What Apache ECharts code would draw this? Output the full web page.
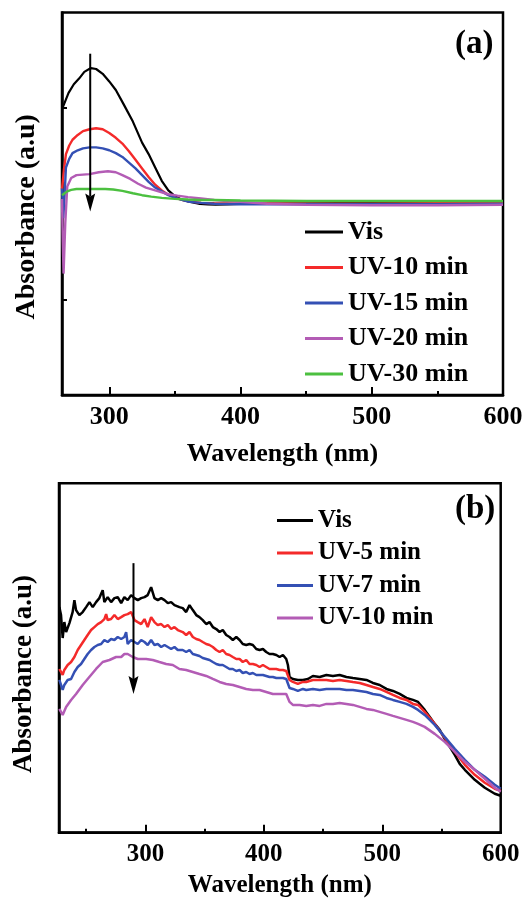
<!DOCTYPE html>
<html>
<head>
<meta charset="utf-8">
<script src="https://cdn.jsdelivr.net/npm/echarts@6/dist/echarts.min.js"></script>
<style>
  html, body { margin: 0; padding: 0; background: #fff; width: 523px; height: 899px; overflow: hidden; }
  #panelA { position: absolute; left: 0; top: 0; width: 523px; height: 480px; }
  #panelB { position: absolute; left: 0; top: 460px; width: 523px; height: 439px; }
</style>
</head>
<body>
<div id="panelA"></div>
<div id="panelB"></div>
<script>
// ---------- Panel (a): spectra [wavelength nm, absorbance a.u.] ----------
const aNames = ['Vis', 'UV-10 min', 'UV-15 min', 'UV-20 min', 'UV-30 min'];
const aVis = [[264,2.99],[265.5,3.04],[269,3.16],[273,3.25],[277,3.31],[281,3.38],[286,3.42],[290,3.41],[295,3.36],[300,3.28],[305,3.19],[311,3.04],[318,2.86],[325,2.64],[330,2.52],[335,2.38],[340,2.24],[345,2.14],[350,2.08],[355,2.045],[360,2.025],[369,2.0],[375,1.995],[381,1.99],[390,1.995],[400,2.0],[450,2.005],[500,2.01],[550,2.01],[600,2.02]];
const aUV10 = [[264,2.15],[265.5,2.36],[267,2.52],[269.5,2.61],[272,2.67],[276,2.72],[280,2.76],[285,2.78],[290,2.79],[295,2.78],[300,2.74],[305,2.69],[310,2.63],[315,2.55],[320,2.46],[325,2.37],[330,2.28],[335,2.2],[340,2.14],[345,2.095],[351,2.06],[356,2.04],[361,2.025],[370,2.01],[380,2.005],[400,2.0],[450,2.0],[500,2.0],[550,2.005],[600,2.01]];
const aUV15 = [[264,2.16],[265,1.85],[266,2.1],[267,2.38],[269.5,2.47],[272,2.53],[276,2.56],[280,2.58],[285,2.59],[290,2.59],[295,2.58],[300,2.56],[305,2.53],[310,2.49],[315,2.43],[320,2.37],[325,2.3],[330,2.23],[335,2.17],[340,2.13],[345,2.09],[351,2.06],[356,2.04],[361,2.02],[370,2.01],[380,2.0],[400,1.995],[450,1.995],[500,1.995],[550,1.995],[600,2.0]];
const aUV20 = [[264,2.05],[264.6,1.6],[265.2,1.27],[266.5,1.8],[268,2.18],[271,2.27],[275,2.3],[280,2.305],[285,2.31],[292,2.33],[299,2.34],[305,2.33],[310,2.3],[316,2.26],[322,2.21],[328,2.17],[335,2.14],[345,2.1],[352,2.085],[360,2.07],[370,2.055],[380,2.04],[390,2.03],[400,2.02],[420,2.0],[450,1.99],[500,1.985],[550,1.985],[600,1.99]];
const aUV30 = [[264,2.09],[266,2.11],[268,2.13],[271,2.145],[275,2.155],[282,2.155],[290,2.155],[297,2.155],[303,2.15],[310,2.135],[318,2.11],[325,2.09],[332,2.075],[340,2.062],[350,2.052],[360,2.045],[370,2.04],[380,2.04],[400,2.035],[450,2.03],[500,2.03],[550,2.03],[600,2.03]];
const aArrow = [[285.5, 3.57], [285.5, 1.92]];

// ---------- Panel (b) ----------
const bNames = ['Vis', 'UV-5 min', 'UV-7 min', 'UV-10 min'];
const bVis = [[227.3,2.26],[228.7,2.18],[230.1,1.95],[231.5,2.11],[233.0,2.01],[235.8,2.10],[238.5,2.21],[240.0,2.33],[241.4,2.23],[244.2,2.18],[247.0,2.21],[249.9,2.26],[252.7,2.31],[255.5,2.26],[258.3,2.31],[261.1,2.35],[263.9,2.43],[265.3,2.31],[268.1,2.36],[271.0,2.31],[273.8,2.35],[276.6,2.36],[279.5,2.30],[282.2,2.36],[285.0,2.33],[287.9,2.38],[290.7,2.35],[293.5,2.33],[296.4,2.35],[299.2,2.36],[301.9,2.38],[304.8,2.46],[307.6,2.35],[310.4,2.33],[313.3,2.35],[316.1,2.33],[318.9,2.30],[321.7,2.31],[324.5,2.28],[328.7,2.26],[331.5,2.25],[334.4,2.21],[337.2,2.28],[340.0,2.23],[342.9,2.18],[345.6,2.16],[348.4,2.13],[351.3,2.09],[354.1,2.11],[356.9,2.06],[359.8,2.04],[362.6,2.01],[365.3,2.03],[368.2,1.98],[371.0,1.96],[373.8,1.93],[376.7,1.96],[379.5,1.93],[382.2,1.89],[385.1,1.88],[387.9,1.89],[390.7,1.88],[393.6,1.84],[396.4,1.83],[399.2,1.84],[402.0,1.81],[404.8,1.79],[407.6,1.79],[410.5,1.78],[413.3,1.76],[416.1,1.78],[418.9,1.74],[420.3,1.68],[421.7,1.56],[424.5,1.54],[428.7,1.53],[433.0,1.53],[437.2,1.54],[441.4,1.57],[447.1,1.56],[452.8,1.58],[458.3,1.57],[464.0,1.58],[469.7,1.56],[475.2,1.55],[480.9,1.54],[486.6,1.53],[492.1,1.50],[497.8,1.48],[503.5,1.44],[509.0,1.42],[514.7,1.39],[520.4,1.35],[525.9,1.33],[530.2,1.31],[531.6,1.29],[535.8,1.23],[540.1,1.16],[544.3,1.09],[548.5,1.03],[552.7,0.94],[557.0,0.86],[561.2,0.78],[565.4,0.69],[569.7,0.63],[573.9,0.58],[578.1,0.53],[582.3,0.49],[586.6,0.45],[590.8,0.42],[595.0,0.39],[600,0.37]];
const bUV5 = [[227.3,1.64],[228.7,1.61],[230.1,1.58],[231.5,1.63],[234.3,1.68],[237.2,1.71],[240.0,1.76],[242.8,1.83],[245.6,1.88],[248.4,1.93],[251.2,1.98],[254.1,2.03],[256.9,2.06],[259.7,2.09],[262.6,2.11],[265.3,2.14],[266.8,2.19],[268.1,2.13],[271.0,2.14],[273.8,2.18],[276.6,2.14],[279.5,2.16],[282.2,2.18],[285.0,2.19],[287.9,2.21],[290.7,2.13],[293.5,2.11],[296.4,2.09],[299.2,2.14],[301.9,2.06],[304.8,2.16],[307.6,2.11],[310.4,2.08],[313.3,2.09],[316.1,2.06],[318.9,2.08],[321.7,2.04],[324.5,2.06],[327.3,2.03],[331.5,2.01],[334.4,1.98],[337.2,2.01],[340.0,1.96],[342.9,1.94],[345.6,1.93],[348.4,1.91],[351.3,1.89],[354.1,1.88],[356.9,1.86],[359.8,1.83],[362.6,1.81],[365.3,1.83],[368.2,1.79],[371.0,1.78],[373.8,1.76],[376.7,1.74],[379.5,1.74],[382.2,1.71],[385.1,1.73],[387.9,1.69],[390.7,1.69],[393.6,1.68],[396.4,1.66],[399.2,1.68],[402.0,1.66],[404.8,1.64],[407.6,1.64],[410.5,1.64],[413.3,1.63],[416.1,1.63],[418.9,1.62],[420.3,1.61],[421.7,1.53],[424.5,1.51],[428.7,1.49],[433.0,1.51],[435.8,1.51],[441.4,1.53],[447.1,1.53],[452.8,1.53],[458.3,1.52],[464.0,1.53],[469.7,1.52],[475.2,1.51],[480.9,1.50],[486.6,1.48],[492.1,1.46],[497.8,1.44],[503.5,1.41],[509.0,1.38],[514.7,1.35],[520.4,1.33],[525.9,1.29],[530.2,1.28],[531.6,1.28],[535.8,1.21],[540.1,1.15],[544.3,1.09],[552.7,0.95],[561.2,0.81],[569.7,0.68],[578.1,0.58],[586.6,0.50],[595.0,0.44],[600,0.42]];
const bUV7 = [[227.3,1.53],[228.7,1.48],[230.1,1.43],[231.5,1.48],[234.3,1.53],[237.2,1.54],[240.0,1.61],[242.8,1.66],[245.6,1.69],[248.4,1.74],[251.2,1.79],[254.1,1.83],[256.9,1.86],[259.7,1.88],[262.6,1.89],[265.3,1.93],[268.1,1.91],[271.0,1.94],[273.8,1.93],[276.6,1.96],[279.5,1.94],[282.2,1.96],[283.7,2.01],[285.0,1.89],[287.9,1.93],[290.7,1.91],[293.5,1.89],[296.4,1.93],[299.2,1.91],[301.9,1.88],[304.8,1.93],[307.6,1.88],[310.4,1.89],[313.3,1.86],[316.1,1.88],[318.9,1.86],[321.7,1.84],[324.5,1.86],[327.3,1.83],[331.5,1.83],[334.4,1.81],[337.2,1.83],[340.0,1.79],[342.9,1.78],[345.6,1.77],[348.4,1.75],[351.3,1.74],[354.1,1.73],[356.9,1.71],[359.8,1.69],[362.6,1.68],[365.3,1.68],[368.2,1.66],[371.0,1.64],[373.8,1.64],[376.7,1.62],[379.5,1.63],[382.2,1.60],[385.1,1.61],[387.9,1.59],[390.7,1.60],[393.6,1.58],[396.4,1.58],[399.2,1.58],[402.0,1.57],[404.8,1.56],[407.6,1.56],[410.5,1.55],[413.3,1.55],[416.1,1.55],[418.9,1.54],[420.3,1.54],[421.7,1.45],[424.5,1.44],[428.7,1.42],[433.0,1.44],[435.8,1.43],[441.4,1.44],[447.1,1.43],[452.8,1.44],[458.3,1.44],[464.0,1.44],[469.7,1.43],[475.2,1.43],[480.9,1.42],[486.6,1.41],[492.1,1.39],[497.8,1.38],[503.5,1.35],[509.0,1.33],[514.7,1.31],[520.4,1.29],[525.9,1.26],[530.2,1.23],[531.6,1.24],[535.8,1.18],[540.1,1.13],[544.3,1.08],[552.7,0.96],[561.2,0.84],[569.7,0.73],[578.1,0.63],[586.6,0.56],[595.0,0.48],[600,0.44]];
const bUV10 = [[227.3,1.24],[230.1,1.18],[233.0,1.26],[237.2,1.33],[241.4,1.39],[247.0,1.48],[251.2,1.54],[252.7,1.56],[258.3,1.64],[263.9,1.71],[265.3,1.71],[269.6,1.73],[275.2,1.76],[279.5,1.76],[282.2,1.79],[285.0,1.79],[289.3,1.76],[293.5,1.74],[300.6,1.74],[306.2,1.73],[311.8,1.71],[317.5,1.69],[323.1,1.68],[328.7,1.64],[334.4,1.63],[340.0,1.61],[345.6,1.59],[351.3,1.57],[356.9,1.54],[362.6,1.51],[368.2,1.49],[373.8,1.48],[379.5,1.46],[385.1,1.44],[390.7,1.43],[396.4,1.43],[402.0,1.41],[407.6,1.39],[413.3,1.39],[418.9,1.39],[420.3,1.41],[421.7,1.31],[424.5,1.28],[430.2,1.28],[435.8,1.27],[441.4,1.28],[447.1,1.27],[452.8,1.29],[458.3,1.29],[464.0,1.30],[469.7,1.29],[475.2,1.28],[480.9,1.26],[486.6,1.24],[492.1,1.23],[497.8,1.21],[503.5,1.19],[509.0,1.17],[514.7,1.15],[520.4,1.13],[525.9,1.11],[530.2,1.09],[535.8,1.06],[544.3,0.99],[552.7,0.91],[561.2,0.81],[569.7,0.71],[578.1,0.63],[586.6,0.54],[595.0,0.45],[600,0.41]];
const bArrow = [[289.9, 2.70], [289.9, 1.39]];

// ---------- Shared styling ----------
const serif = 'Liberation Serif';
const colors = { black: '#000000', red: '#f42a2a', blue: '#3450b4', purple: '#b35cb5', green: '#4cc040' };

function lineSeries(name, data, color, width) {
  return {
    type: 'line', name: name, data: data,
    symbol: 'none', showSymbol: false, smooth: false,
    lineStyle: { color: color, width: width },
    itemStyle: { color: color },
    animation: false, silent: true
  };
}

function buildOption(p) {
  const fontBase = { fontFamily: serif, fontWeight: 'bold', color: '#000' };
  return {
    backgroundColor: 'transparent',
    animation: false,
    grid: Object.assign({ show: true, borderColor: '#000', borderWidth: 2.5, backgroundColor: 'transparent',
      containLabel: false, outerBoundsMode: 'none' }, p.grid),
    legend: {
      orient: 'vertical', left: p.legend.left, top: p.legend.top,
      icon: 'rect', itemWidth: p.legend.itemWidth, itemHeight: 3, itemGap: p.legend.itemGap,
      selectedMode: false, data: p.names,
      textStyle: Object.assign({ fontSize: p.legend.fontSize, lineHeight: p.legend.lineHeight }, fontBase)
    },
    xAxis: [
      {
        type: 'value', min: p.xMin, max: 600, position: 'bottom',
        axisLine: { show: true, onZero: false, lineStyle: { color: '#000', width: 2.5 } },
        axisTick: { show: true, inside: true, length: 8, customValues: [300, 400, 500], lineStyle: { color: '#000', width: 2 } },
        axisLabel: Object.assign({ customValues: [300, 400, 500, 600], fontSize: p.tickFont, margin: p.labelMargin }, fontBase),
        splitLine: { show: false },
        name: 'Wavelength (nm)', nameLocation: 'middle', nameGap: p.xNameGap,
        nameTextStyle: Object.assign({ fontSize: p.xNameFont }, fontBase)
      },
      {
        type: 'value', min: p.xMin, max: 600, position: 'bottom',
        axisLine: { show: false },
        axisTick: { show: true, inside: true, length: 4, customValues: p.minorTicks, lineStyle: { color: '#000', width: 2 } },
        axisLabel: { show: false }, splitLine: { show: false }
      }
    ],
    yAxis: {
      type: 'value', min: 0, max: p.yMax,
      axisLine: { show: true, onZero: false, lineStyle: { color: '#000', width: 2.5 } },
      axisTick: { show: p.yTicks.length > 0, inside: true, length: 5, customValues: p.yTicks, lineStyle: { color: '#000', width: 2 } },
      axisLabel: { show: false }, splitLine: { show: false },
      name: 'Absorbance (a.u)', nameLocation: 'middle', nameGap: p.yNameGap,
      nameTextStyle: Object.assign({ fontSize: p.yNameFont, padding: p.yNamePad }, fontBase)
    },
    graphic: [{
      id: 'tag', type: 'text', left: p.tag.left, top: p.tag.top, silent: true,
      style: { text: p.tag.text, font: 'bold ' + p.tag.size + 'px "' + serif + '"', fill: '#000' }
    }],
    series: p.series
  };
}

// Downward arrow placed through the chart's own coordinate system.
function addArrow(chart, points) {
  const start = chart.convertToPixel({ xAxisIndex: 0, yAxisIndex: 0 }, points[0]);
  const tip = chart.convertToPixel({ xAxisIndex: 0, yAxisIndex: 0 }, points[1]);
  const headLen = 18, headHalf = 5, notch = 3;
  chart.setOption({
    graphic: [
      { id: 'arrowShaft', type: 'line', silent: true, z: 10,
        shape: { x1: start[0], y1: start[1], x2: tip[0], y2: tip[1] - headLen + notch },
        style: { stroke: '#000', lineWidth: 2 } },
      { id: 'arrowHead', type: 'polygon', silent: true, z: 10,
        shape: { points: [[tip[0], tip[1]], [tip[0] - headHalf, tip[1] - headLen], [tip[0], tip[1] - headLen + notch], [tip[0] + headHalf, tip[1] - headLen]] },
        style: { fill: '#000' } }
    ]
  });
}

// ---------- Panel (a) ----------
const chartA = echarts.init(document.getElementById('panelA'), null, { renderer: 'canvas' });
chartA.setOption(buildOption({
  grid: { left: 62, right: 20, top: 12.6, bottom: 85 },
  names: aNames, xMin: 264, yMax: 4, yTicks: [1, 3], minorTicks: [350, 450, 550],
  tickFont: 26, labelMargin: 9, xNameFont: 26, xNameGap: 46,
  yNameFont: 28, yNameGap: 21, yNamePad: [0, 26, 0, 0],
  legend: { left: 300, top: 214, itemWidth: 38, itemGap: 9.5, fontSize: 26, lineHeight: 26 },
  tag: { text: '(a)', left: 455, top: 28, size: 33 },
  series: [
    lineSeries(aNames[0], aVis, colors.black, 2.2),
    lineSeries(aNames[1], aUV10, colors.red, 2.4),
    lineSeries(aNames[2], aUV15, colors.blue, 2.4),
    lineSeries(aNames[3], aUV20, colors.purple, 2.4),
    lineSeries(aNames[4], aUV30, colors.green, 2.4)
  ]
}));
addArrow(chartA, aArrow);

// ---------- Panel (b) ----------
const chartB = echarts.init(document.getElementById('panelB'), null, { renderer: 'canvas' });
chartB.setOption(buildOption({
  grid: { left: 59, right: 22.3, top: 23.3, bottom: 66.3 },
  names: bNames, xMin: 227, yMax: 3.5, yTicks: [], minorTicks: [250, 350, 450, 550],
  tickFont: 25, labelMargin: 9, xNameFont: 25, xNameGap: 40,
  yNameFont: 27, yNameGap: 21, yNamePad: [0, 32, 0, 0],
  legend: { left: 272, top: 43, itemWidth: 36, itemGap: 7.5, fontSize: 25, lineHeight: 25 },
  tag: { text: '(b)', left: 455, top: 33, size: 33 },
  series: [
    lineSeries(bNames[0], bVis, colors.black, 2.5),
    lineSeries(bNames[1], bUV5, colors.red, 2.5),
    lineSeries(bNames[2], bUV7, colors.blue, 2.5),
    lineSeries(bNames[3], bUV10, colors.purple, 2.5)
  ]
}));
addArrow(chartB, bArrow);
</script>
</body>
</html>
